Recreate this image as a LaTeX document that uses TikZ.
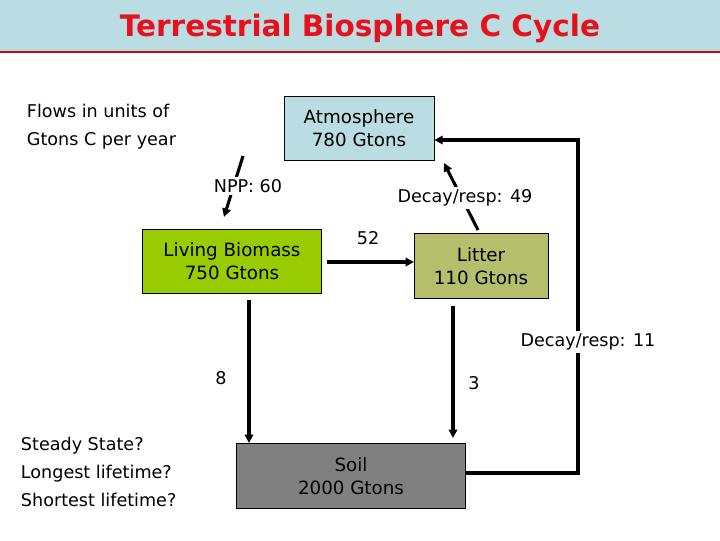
\documentclass[tikz,border=0pt]{standalone}
\usepackage{fontspec}
\setmainfont{DejaVu Sans}
\usetikzlibrary{arrows}
\usetikzlibrary{arrows.meta}

\definecolor{atmblue}{HTML}{B9DDE3}
\definecolor{biogreen}{HTML}{99CC00}
\definecolor{litolive}{HTML}{B5BF6B}
\definecolor{titlered}{HTML}{E8101A}

\begin{document}
\begin{tikzpicture}[x=0.025cm, y=-0.025cm,
    pool/.style = {draw=black, thin, align=center, font=\fontsize{13}{16}\selectfont, inner sep=0pt},
    flow/.style = {fill=white, inner sep=2pt, font=\fontsize{12.5}{15}\selectfont},
    conn/.style = {line width=2.2pt, -{Triangle[length=6pt,width=6pt]}}]

    % background and title band
    \useasboundingbox (0,0) rectangle (720,540);
    \fill[atmblue] (0,0) rectangle (720,51);
    \draw[titlered!80!black, line width=1.5pt] (0,52) -- (720,52);
    \node[text=titlered, font=\fontsize{21}{25}\selectfont\bfseries] (title) at (360,28) {Terrestrial Biosphere C Cycle};

    % pools
    \node[pool, fill=atmblue, minimum width=3.75cm, minimum height=1.6cm] (atm) at (359,128) {Atmosphere\\780 Gtons};
    \node[pool, fill=biogreen, minimum width=4.475cm, minimum height=1.6cm] (bio) at (232,261) {Living Biomass\\750 Gtons};
    \node[pool, fill=litolive, minimum width=3.35cm, minimum height=1.625cm] (lit) at (481,266) {Litter\\110 Gtons};
    \node[pool, fill=gray, minimum width=5.725cm, minimum height=1.625cm] (soil) at (351,476) {Soil\\2000 Gtons};

    % side notes
    \node[anchor=north west, align=left, font=\fontsize{12.5}{20}\selectfont] (units) at (22,99) {Flows in units of\\Gtons C per year};
    \node[anchor=north west, align=left, font=\fontsize{12.5}{20}\selectfont] (quest) at (16,432) {Steady State?\\Longest lifetime?\\Shortest lifetime?};

    % flows
    \coordinate (npp0) at (243,156);
    \coordinate (npp1) at (224,217);
    \draw[conn] (npp0) -- (npp1);
    \node[flow] (npp) at (248,186) {NPP: 60};

    \coordinate (dec0) at (478,230);
    \coordinate (dec1) at (444,163);
    \draw[conn] (dec0) -- (dec1);
    \node[flow] (dec49) at (465,198) {Decay/resp: 49};

    \coordinate (b52) at (327,262);
    \coordinate (l52) at (414,262);
    \draw[conn] (b52) -- (l52);
    \node[flow, fill=none] (f52) at (368,238) {52};

    \coordinate (b8) at (249,300);
    \coordinate (s8) at (249,443);
    \draw[conn] (b8) -- (s8);
    \node[flow, fill=none] (f8) at (221,378) {8};

    \coordinate (l3) at (453,306);
    \coordinate (s3) at (453,438);
    \draw[conn] (l3) -- (s3);
    \node[flow, fill=none] (f3) at (474,383) {3};

    \coordinate (ret0) at (578,473);
    \coordinate (ret1) at (578,140);
    \draw[conn] (soil.east |- ret0) -- (ret0) -- (ret1) -- (atm.east |- ret1);
    \node[flow] (dec11) at (588,342) {Decay/resp: 11};

\end{tikzpicture}
\end{document}
